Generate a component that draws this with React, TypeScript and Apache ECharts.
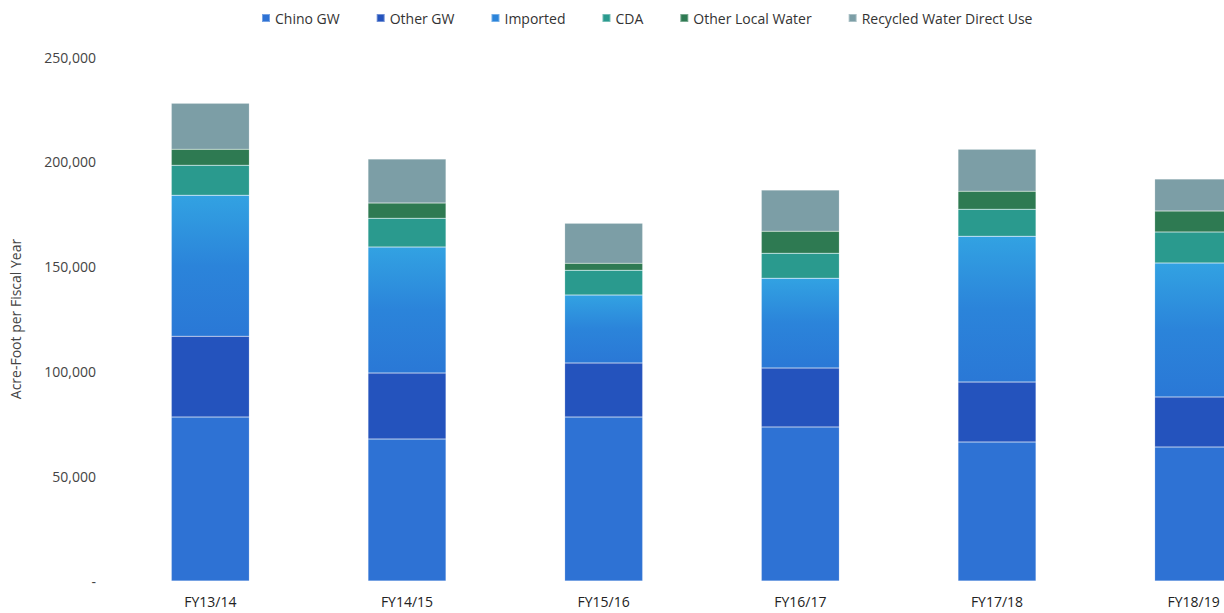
import React, { useEffect, useRef } from "react";
import * as echarts from "echarts";

const categories = ["FY13/14", "FY14/15", "FY15/16", "FY16/17", "FY17/18", "FY18/19"];
const chinoGW = [78200, 67700, 78200, 73500, 66300, 63900];
const otherGW = [38600, 31500, 25800, 28100, 28600, 23900];
const imported = [67300, 60100, 32400, 42900, 69600, 63900];
const cda = [14300, 13800, 11900, 11900, 12900, 14800];
const otherLocal = [7600, 7200, 3300, 10500, 8600, 10000];
const recycled = [21900, 21000, 19100, 19600, 20000, 15300];
const yTicks = [0, 50000, 100000, 150000, 200000, 250000];

const seriesDefs = [
  { name: "Chino GW", data: chinoGW, color: "#2e72d4" },
  { name: "Other GW", data: otherGW, color: "#2453bd" },
  {
    name: "Imported",
    data: imported,
    color: new echarts.graphic.LinearGradient(0, 0, 0, 1, [
      { offset: 0, color: "#32a2e2" },
      { offset: 0.5, color: "#2b84da" },
      { offset: 1, color: "#2a78d6" },
    ]),
    legendColor: "#2b84da",
  },
  { name: "CDA", data: cda, color: "#2a9a8e" },
  { name: "Other Local Water", data: otherLocal, color: "#2e7a52" },
  { name: "Recycled Water Direct Use", data: recycled, color: "#7c9ea6" },
];

export default function App() {
  const ref = useRef<HTMLDivElement>(null);
  useEffect(() => {
    if (!ref.current) return;
    const chart = echarts.init(ref.current, null, { renderer: "svg" });
    const font = "'Open Sans', 'Liberation Sans', sans-serif";
    chart.setOption({
      animation: false,
      backgroundColor: "#ffffff",
      legend: {
        top: 6,
        left: 256,
        itemWidth: 8,
        itemHeight: 8,
        itemGap: 36,
        icon: "rect",
        textStyle: { fontFamily: font, fontSize: 14, color: "#333" },
        data: seriesDefs.map((s) => ({
          name: s.name,
          itemStyle: { color: (s as any).legendColor || s.color },
        })),
      },
      grid: { left: 107, right: -69, top: 57, bottom: 32, containLabel: false },
      xAxis: {
        type: "category",
        data: categories,
        axisLine: { show: false },
        axisTick: { show: false },
        axisLabel: { fontFamily: font, fontSize: 14, color: "#222", margin: 13 },
      },
      yAxis: {
        type: "value",
        min: 0,
        max: 250000,
        interval: 50000,
        name: "Acre-Foot per Fiscal Year",
        nameLocation: "middle",
        nameGap: 90,
        nameTextStyle: { fontFamily: font, fontSize: 14, color: "#444" },
        axisLine: { show: false },
        axisTick: { show: false },
        splitLine: { show: false },
        axisLabel: {
          fontFamily: font,
          fontSize: 14,
          color: "#444",
          margin: 16,
          formatter: (v: number) =>
            yTicks.includes(v) && v === 0 ? "-" : v.toLocaleString("en-US"),
        },
      },
      series: seriesDefs.map((s) => ({
        name: s.name,
        type: "bar",
        stack: "total",
        barWidth: 78,
        data: s.data,
        itemStyle: { color: s.color, borderColor: "rgba(255,255,255,0.35)", borderWidth: 0.5 },
      })),
    });
    return () => chart.dispose();
  }, []);
  return (
    <div
      style={{
        position: "fixed",
        left: 0,
        top: 0,
        width: 1224,
        height: 613,
        overflow: "hidden",
        background: "#fff",
      }}
    >
      <div ref={ref} style={{ width: 1292, height: 613 }} />
    </div>
  );
}
